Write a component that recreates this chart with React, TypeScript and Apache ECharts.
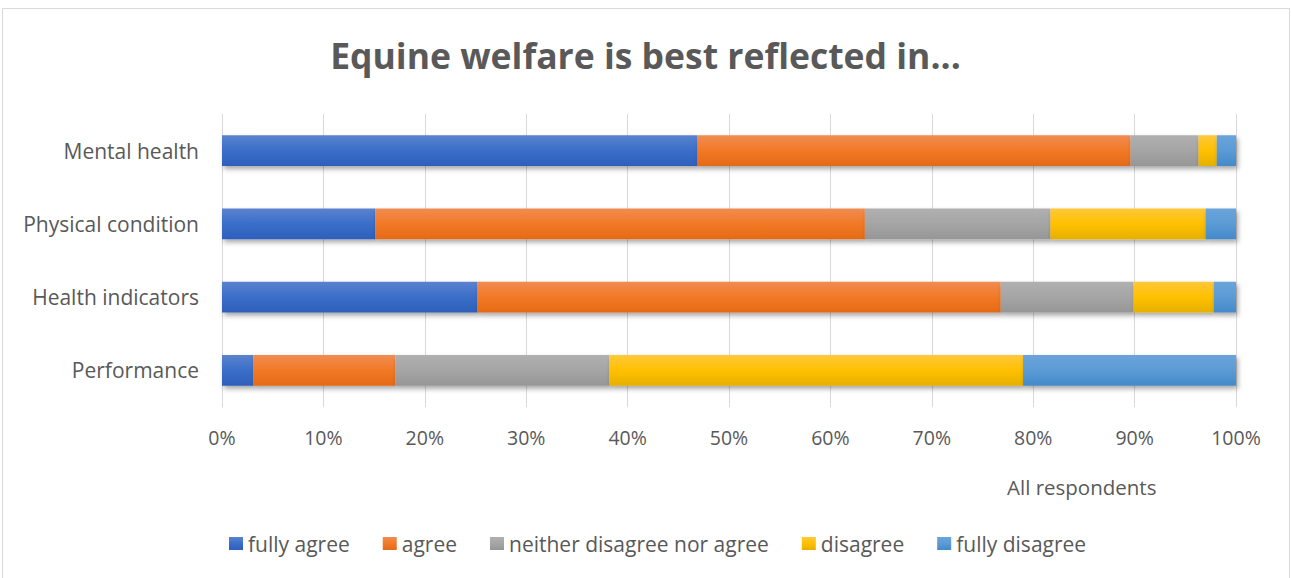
import React, { useEffect, useRef } from "react";
import * as echarts from "echarts";

const categories = ["Performance", "Health indicators", "Physical condition", "Mental health"];
const seriesNames = ["fully agree", "agree", "neither disagree nor agree", "disagree", "fully disagree"];
const fullyAgree = [3.1, 25.2, 15.1, 46.9];
const agree = [14.0, 51.6, 48.3, 42.7];
const neither = [21.1, 13.1, 18.3, 6.7];
const disagree = [40.8, 7.9, 15.3, 1.8];
const fullyDisagree = [21.0, 2.2, 3.0, 1.9];
const xTicks = [0, 10, 20, 30, 40, 50, 60, 70, 80, 90, 100];

const palette = [
  ["#5B82CE", "#3A6EC9", "#2E5FBB"],
  ["#F08C52", "#F27925", "#E46A17"],
  ["#B0B0B0", "#A5A5A5", "#969696"],
  ["#FFC83A", "#FFC000", "#E6B000"],
  ["#6AA4DB", "#5B9BD5", "#4489C9"],
];

const FONT = "Open Sans";

export default function App() {
  const ref = useRef<HTMLDivElement>(null);
  useEffect(() => {
    const chart = echarts.init(ref.current!, null, { renderer: "svg" });
    const values = [fullyAgree, agree, neither, disagree, fullyDisagree];
    const grad = (i: number) =>
      new echarts.graphic.LinearGradient(0, 0, 0, 1, [
        { offset: 0, color: palette[i][0] },
        { offset: 0.5, color: palette[i][1] },
        { offset: 1, color: palette[i][2] },
      ]);
    chart.setOption({
      animation: false,
      backgroundColor: "#ffffff",
      title: [
        {
          text: "Equine welfare is best reflected in...",
          left: "center",
          top: 32,
          textStyle: { fontFamily: FONT, fontWeight: "bold", fontSize: 35.5, color: "#595959" },
        },
        {
          text: "All respondents",
          left: 1002,
          top: 471,
          textStyle: { fontFamily: FONT, fontWeight: "normal", fontSize: 20.5, color: "#595959" },
        },
      ],
      graphic: [
        {
          type: "rect",
          shape: { x: 2.5, y: 8.5, width: 1287, height: 575 },
          style: { fill: "none", stroke: "#D9D9D9", lineWidth: 1 },
          silent: true,
        },
      ],
      legend: {
        data: seriesNames.map((n, i) => ({ name: n, itemStyle: { color: grad(i) } })),
        left: 224,
        top: 528,
        itemWidth: 14,
        itemHeight: 13,
        itemGap: 33,
        icon: "rect",
        textStyle: { fontFamily: FONT, fontSize: 21, color: "#595959", padding: [0, 0, 0, 0] },
      },
      grid: { left: 222, right: 55, top: 114, bottom: 171, containLabel: false },
      xAxis: {
        type: "value",
        min: 0,
        max: 100,
        interval: 10,
        axisLine: { show: false },
        axisTick: { show: false },
        splitLine: { show: true, lineStyle: { color: "#D9D9D9", width: 1 } },
        axisLabel: {
          formatter: (v: number) => (xTicks.includes(v) ? v + "%" : ""),
          fontFamily: FONT,
          fontSize: 19.5,
          color: "#595959",
          margin: 20,
        },
      },
      yAxis: {
        type: "category",
        data: categories,
        axisLine: { show: true, lineStyle: { color: "#D9D9D9", width: 1 } },
        axisTick: { show: false },
        axisLabel: { fontFamily: FONT, fontSize: 21, color: "#595959", margin: 23 },
      },
      series: values.map((d, i) => ({
        name: seriesNames[i],
        type: "bar",
        stack: "total",
        barWidth: "42%",
        data: d,
        itemStyle: {
          color: grad(i),
          shadowBlur: 5,
          shadowOffsetX: 2,
          shadowOffsetY: 3,
          shadowColor: "rgba(0,0,0,0.35)",
        },
      })),
    });
    return () => chart.dispose();
  }, []);
  return (
    <div
      ref={ref}
      style={{ position: "absolute", left: 0, top: 0, width: 1291, height: 578 }}
    />
  );
}
